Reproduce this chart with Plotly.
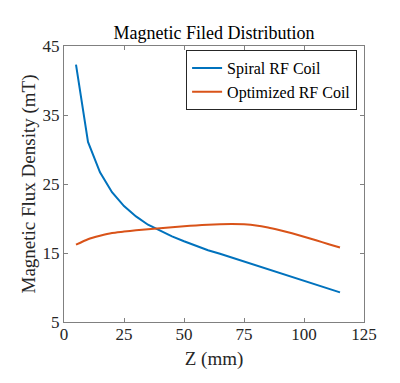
import plotly.graph_objects as go

z_mm = [5, 10, 15, 20, 25, 30, 35, 40, 45, 50, 55, 60, 65, 70, 75, 80, 85, 90, 95, 100, 105, 110, 115]
spiral = [42.3, 31.1, 26.7, 23.8, 21.8, 20.3, 19.1, 18.2, 17.4, 16.7, 16.0, 15.4, 14.9, 14.35, 13.8, 13.25, 12.7, 12.1, 11.55, 11.0, 10.4, 9.85, 9.3]
optimized = [16.2, 17.0, 17.5, 17.9, 18.1, 18.3, 18.45, 18.6, 18.75, 18.88, 19.0, 19.1, 19.17, 19.2, 19.15, 19.0, 18.7, 18.3, 17.85, 17.35, 16.85, 16.3, 15.8]

font = "'Liberation Serif', 'Times New Roman', serif"

fig = go.Figure()
fig.add_trace(go.Scatter(x=z_mm, y=spiral, mode="lines", name="Spiral RF Coil",
                         line=dict(color="#0072BD", width=2)))
fig.add_trace(go.Scatter(x=z_mm, y=optimized, mode="lines", name="Optimized RF Coil",
                         line=dict(color="#D95319", width=2, shape="spline", smoothing=0.6)))

axis_common = dict(showgrid=False, zeroline=False, showline=True, linecolor="#808080",
                   linewidth=1, mirror="allticks", ticks="inside", ticklen=4,
                   tickcolor="#808080", automargin=False,
                   tickfont=dict(family=font, size=17, color="#262626"))

fig.update_layout(
    width=400, height=383,
    margin=dict(l=64, r=36, t=46, b=61),
    paper_bgcolor="white", plot_bgcolor="white",
    font=dict(family=font, color="#262626"),
    title=dict(text="Magnetic Filed Distribution", x=0.535, xanchor="center",
               y=1 - 33 / 383, yanchor="middle",
               font=dict(family=font, size=18, color="#000000")),
    xaxis=dict(range=[0, 125], tickvals=[0, 25, 50, 75, 100, 125],
               ticklabelstandoff=-3,
               title=dict(text="Z (mm)", font=dict(family=font, size=19, color="#262626"), standoff=8),
               **axis_common),
    yaxis=dict(range=[5, 45], tickvals=[5, 15, 25, 35, 45],
               title=dict(text="Magnetic Flux Density (mT)", font=dict(family=font, size=19, color="#262626"), standoff=1),
               **axis_common),
    legend=dict(x=0.977, y=0.985, xanchor="right", yanchor="top",
                bgcolor="white", bordercolor="#262626", borderwidth=1,
                font=dict(family=font, size=16, color="#000000"),
                tracegroupgap=0, itemwidth=30),
    showlegend=True,
)

fig.write_html("out.html", config={"displayModeBar": False},
               post_script="document.body.style.margin='0';document.body.style.padding='0';")
